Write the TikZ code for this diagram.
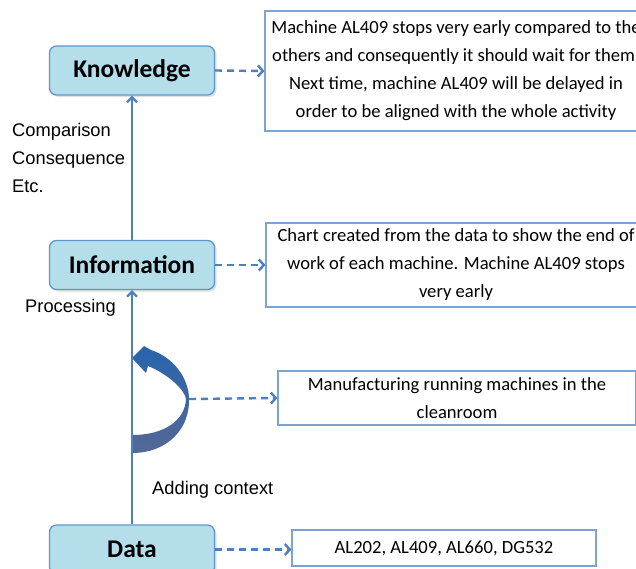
\documentclass[tikz,border=0pt]{standalone}
\usepackage{fontspec}
\setmainfont{Carlito}
\newfontfamily\labelfont{Liberation Sans}
\usetikzlibrary{arrows.meta, shadows}

\definecolor{boxfill}{RGB}{180,222,234}
\definecolor{boxline}{RGB}{96,150,205}
\definecolor{noteline}{RGB}{125,162,212}
\definecolor{arrowblue}{RGB}{76,128,192}
\definecolor{curvetop}{RGB}{40,100,172}
\definecolor{curvebottom}{RGB}{84,104,150}

\begin{document}
\begin{tikzpicture}[x=1pt, y=-1pt,
    level/.style={draw=boxline, fill=boxfill, line width=1.3pt, rounded corners=7pt,
      minimum width=165pt, minimum height=49pt, inner sep=0pt,
      font=\fontsize{25.5}{30}\selectfont\bfseries,
      drop shadow={opacity=0.25, shadow xshift=2pt, shadow yshift=-2pt}},
    note/.style={draw=noteline, fill=white, line width=1.1pt, inner sep=0pt,
      align=center, font=\fontsize{18.6}{28}\selectfont},
    side/.style={anchor=west, inner sep=0pt, align=left,
      font=\labelfont\fontsize{18.3}{28}\selectfont},
    uparrow/.style={draw=arrowblue, line width=2.2pt,
      -{Straight Barb[length=5pt, width=10pt]}},
    dasharrow/.style={draw=arrowblue, line width=2.4pt, dash pattern=on 7pt off 5pt,
      -{Straight Barb[length=5pt, width=11pt]}}]

  \clip (0,0) rectangle (636,568);

  % levels of the pyramid
  \node[level] (know) at (132,70.5) {Knowledge};
  \node[level] (info) at (132,265) {Information};
  \node[level] (data) at (132,549.5) {Data};

  % explanations
  \node[note, minimum width=382pt, minimum height=120pt] (knowtxt) at (456,71)
    {Machine AL409 stops very early compared to the\\
     others and consequently it should wait for them.\\
     Next time, machine AL409 will be delayed in\\
     order to be aligned with the whole activity};
  \node[note, minimum width=380pt, minimum height=84pt] (infotxt) at (456,265)
    {Chart created from the data to show the end of\\
     work of each machine. Machine AL409 stops\\
     very early};
  \node[note, minimum width=358pt, minimum height=54pt] (ctxtxt) at (457,398)
    {Manufacturing running machines in the\\ cleanroom};
  \node[note, minimum width=304pt, minimum height=36pt] (datatxt) at (444,548)
    {AL202, AL409, AL660, DG532};

  % side labels
  \node[side] (comp) at (12,158) {Comparison\\Consequence\\Etc.};
  \node[side] (proc) at (25,308) {Processing};
  \node[side] (addctx) at (152,490) {Adding context};

  % curved context arrow
  \shade[top color=curvetop, bottom color=curvebottom]
    (132,453) .. controls (168,453) and (190,428) .. (189,399)
    .. controls (189,378) and (173,357) .. (151,350)
    -- (144,346) -- (132,358) -- (146,373) -- (148,366)
    .. controls (168,374) and (185,390) .. (186,399)
    .. controls (185,420) and (165,435) .. (132,435) -- cycle;
  \coordinate (ctx) at (189,399);

  % connectors
  \draw[uparrow] (data.north) -- (info.south);
  \draw[uparrow] (info.north) -- (know.south);
  \draw[dasharrow] (know.east) -- (knowtxt.west);
  \draw[dasharrow] (info.east) -- (infotxt.west);
  \draw[dasharrow] (ctx) -- (ctxtxt.west);
  \draw[dasharrow] (data.east) -- (data.east -| datatxt.west);
\end{tikzpicture}
\end{document}
